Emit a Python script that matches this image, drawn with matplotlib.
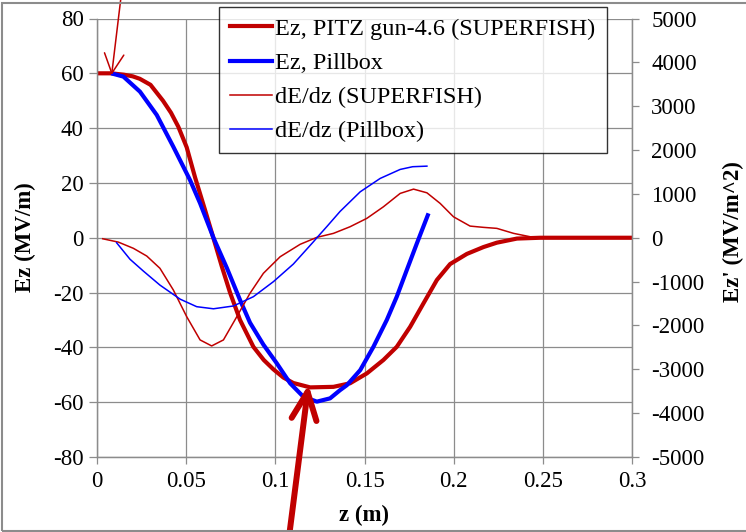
import matplotlib
matplotlib.use("Agg")
import matplotlib.pyplot as plt
import matplotlib.patches as patches
from matplotlib.lines import Line2D

plt.rcParams['font.family'] = ['Liberation Serif', 'DejaVu Serif']
plt.rcParams['axes.unicode_minus'] = False

# On-axis field, PITZ gun-4.6 (SUPERFISH), MV/m
z_sf = [0.000, 0.008, 0.015, 0.020, 0.024, 0.030, 0.037, 0.0415, 0.0456, 0.0503,
        0.055, 0.0606, 0.065, 0.070, 0.0746, 0.0802, 0.0877, 0.0935, 0.0989,
        0.1045, 0.1101, 0.1195, 0.1326, 0.1419, 0.1513, 0.1606, 0.1681, 0.1756,
        0.1831, 0.1906, 0.1980, 0.2074, 0.2167, 0.2242, 0.2355, 0.2485, 0.300]
ez_sf = [60.0, 60.0, 59.5, 58.9, 58.0, 55.8, 50.0, 45.6, 40.5, 33.0,
         22.0, 10.1, 0.5, -10.5, -20.0, -30.0, -39.8, -44.6, -48.0,
         -51.0, -53.0, -54.6, -54.4, -53.1, -49.5, -44.6, -39.8, -32.5,
         -23.9, -15.4, -9.6, -5.9, -3.4, -1.8, -0.3, 0.0, 0.0]

# On-axis field, pillbox cavity, MV/m
z_pb = [0.008, 0.0148, 0.0241, 0.0335, 0.0428, 0.0522, 0.0578, 0.0653, 0.0728,
        0.0802, 0.0858, 0.0933, 0.1008, 0.1083, 0.1157, 0.1233, 0.1307, 0.1363,
        0.1401, 0.1476, 0.1550, 0.1625, 0.1681, 0.1737, 0.1794, 0.1859]
ez_pb = [60.0, 58.8, 53.3, 44.8, 33.2, 21.0, 12.6, 0.0, -11.0,
         -22.7, -31.0, -39.0, -45.8, -53.1, -58.0, -59.8, -58.6, -55.6,
         -53.8, -48.3, -39.8, -30.0, -21.5, -11.8, -2.0, 8.9]

# Field derivative, SUPERFISH, MV/m^2
z_dsf = [0.0032, 0.0120, 0.0204, 0.0279, 0.0353, 0.0428, 0.0503, 0.0578, 0.0643,
         0.0709, 0.0784, 0.0858, 0.0933, 0.1027, 0.1139, 0.1233, 0.1326, 0.1419,
         0.1513, 0.1606, 0.1700, 0.1775, 0.1850, 0.1924, 0.1999, 0.2092, 0.2167,
         0.2242, 0.2336, 0.2429, 0.2504]
de_sf = [-23, -100, -241, -417, -697, -1191, -1800, -2330, -2467,
         -2330, -1800, -1266, -811, -433, -150, 9, 100, 251,
         442, 706, 1011, 1109, 1025, 784, 478, 266, 237,
         214, 100, 23, 0]

# Field derivative, pillbox, MV/m^2
z_dpb = [0.0110, 0.0185, 0.0260, 0.0353, 0.0466, 0.0559, 0.0653, 0.0765, 0.0877,
         0.0989, 0.1101, 0.1214, 0.1233, 0.1290, 0.1363, 0.1476, 0.1588, 0.1700,
         0.1770, 0.1850]
de_pb = [-114, -490, -760, -1080, -1400, -1572, -1620, -1556, -1344,
         -1002, -600, -90, 0, 260, 600, 1048, 1353, 1558,
         1620, 1633]

x_ticks = [0, 0.05, 0.1, 0.15, 0.2, 0.25, 0.3]
x_labels = ['0', '0.05', '0.1', '0.15', '0.2', '0.25', '0.3']
y_ticks = [-80, -60, -40, -20, 0, 20, 40, 60, 80]
y2_ticks = [-5000, -4000, -3000, -2000, -1000, 0, 1000, 2000, 3000, 4000, 5000]

RED = '#C00000'
BLUE = '#0000FF'
GRID = '#8C8C8C'
FS = 16.5

fig = plt.figure(figsize=(7.46, 5.32), dpi=100)
ax = fig.add_axes([97 / 746, 75 / 532, 535 / 746, 438.5 / 532])
ax2 = ax.twinx()

ax.plot(z_sf, ez_sf, color=RED, lw=3.0, solid_capstyle='butt',
        solid_joinstyle='round')
ax.plot(z_pb, ez_pb, color=BLUE, lw=3.0, solid_capstyle='butt',
        solid_joinstyle='round')
ax2.plot(z_dsf, de_sf, color=RED, lw=1.1)
ax2.plot(z_dpb, de_pb, color=BLUE, lw=1.1)

ax.set_xlim(0, 0.3)
ax.set_ylim(-80, 80)
ax2.set_ylim(-5000, 5000)
ax.set_xticks(x_ticks)
ax.set_xticklabels(x_labels)
ax.set_yticks(y_ticks)
ax2.set_yticks(y2_ticks)

ax.grid(True, color=GRID, lw=0.9)
ax.set_axisbelow(True)
for a in (ax, ax2):
    for s in a.spines.values():
        s.set_color(GRID)
        s.set_linewidth(0.9)
ax.spines['top'].set_visible(False)
ax2.spines['top'].set_visible(False)
ax.tick_params(axis='y', direction='out', length=5.5, width=0.9, color=GRID,
               pad=4, labelsize=FS)
ax.tick_params(axis='x', direction='out', length=4.8, width=0.9, color=GRID,
               pad=5, labelsize=FS)
ax2.tick_params(axis='y', direction='out', length=4.8, width=0.9, color=GRID,
                pad=9, labelsize=FS)

fig.text(25 / 746, 1 - 237 / 532, 'Ez (MV/m)', rotation=90, ha='center',
         va='center', fontsize=FS, weight='bold')
fig.text(733 / 746, 1 - 232 / 532, "Ez' (MV/m^2)", rotation=90, ha='center',
         va='center', fontsize=FS, weight='bold')
fig.text(364 / 746, 1 - 515 / 532, 'z (m)', ha='center', va='center',
         fontsize=FS, weight='bold')

handles = [Line2D([], [], color=RED, lw=3.0),
           Line2D([], [], color=BLUE, lw=3.0),
           Line2D([], [], color=RED, lw=1.1),
           Line2D([], [], color=BLUE, lw=1.1)]
labels = ['Ez, PITZ gun-4.6 (SUPERFISH)', 'Ez, Pillbox',
          'dE/dz (SUPERFISH)', 'dE/dz (Pillbox)']
leg = ax2.legend(handles, labels, loc='upper left',
                 bbox_to_anchor=(219 / 746, 1 - 7 / 532),
                 bbox_transform=fig.transFigure, borderaxespad=0,
                 fontsize=17.5, frameon=True, fancybox=False,
                 handlelength=1.75, handletextpad=0.12, borderpad=0.45,
                 labelspacing=0.5)
leg.get_frame().set_edgecolor('black')
leg.get_frame().set_linewidth(1.0)
leg.set_zorder(10)

# arrows pointing at the field start and the field minimum
ax2.annotate('', xy=(0.0082, 59.4), xycoords=ax.transData,
             xytext=(121, 535), textcoords='figure pixels',
             arrowprops=dict(arrowstyle='->,head_length=1.0,head_width=0.5',
                             color=RED, lw=1.1, mutation_scale=14,
                             shrinkA=0, shrinkB=0),
             annotation_clip=False, zorder=5)
ax2.annotate('', xy=(0.1186, -53.6), xycoords=ax.transData,
             xytext=(289, -5), textcoords='figure pixels',
             arrowprops=dict(arrowstyle='->,head_length=1.0,head_width=0.45',
                             color=RED, lw=4.3, mutation_scale=20,
                             shrinkA=0, shrinkB=0),
             annotation_clip=False, zorder=5)

# outer chart frame
fig.patches.append(patches.Rectangle((2 / 746, 1.3 / 532), 1.0, 1 - 4.3 / 532,
                                     transform=fig.transFigure, fill=False,
                                     edgecolor='#8C8C8C', lw=1.5))

fig.savefig('out.png', dpi=100)
